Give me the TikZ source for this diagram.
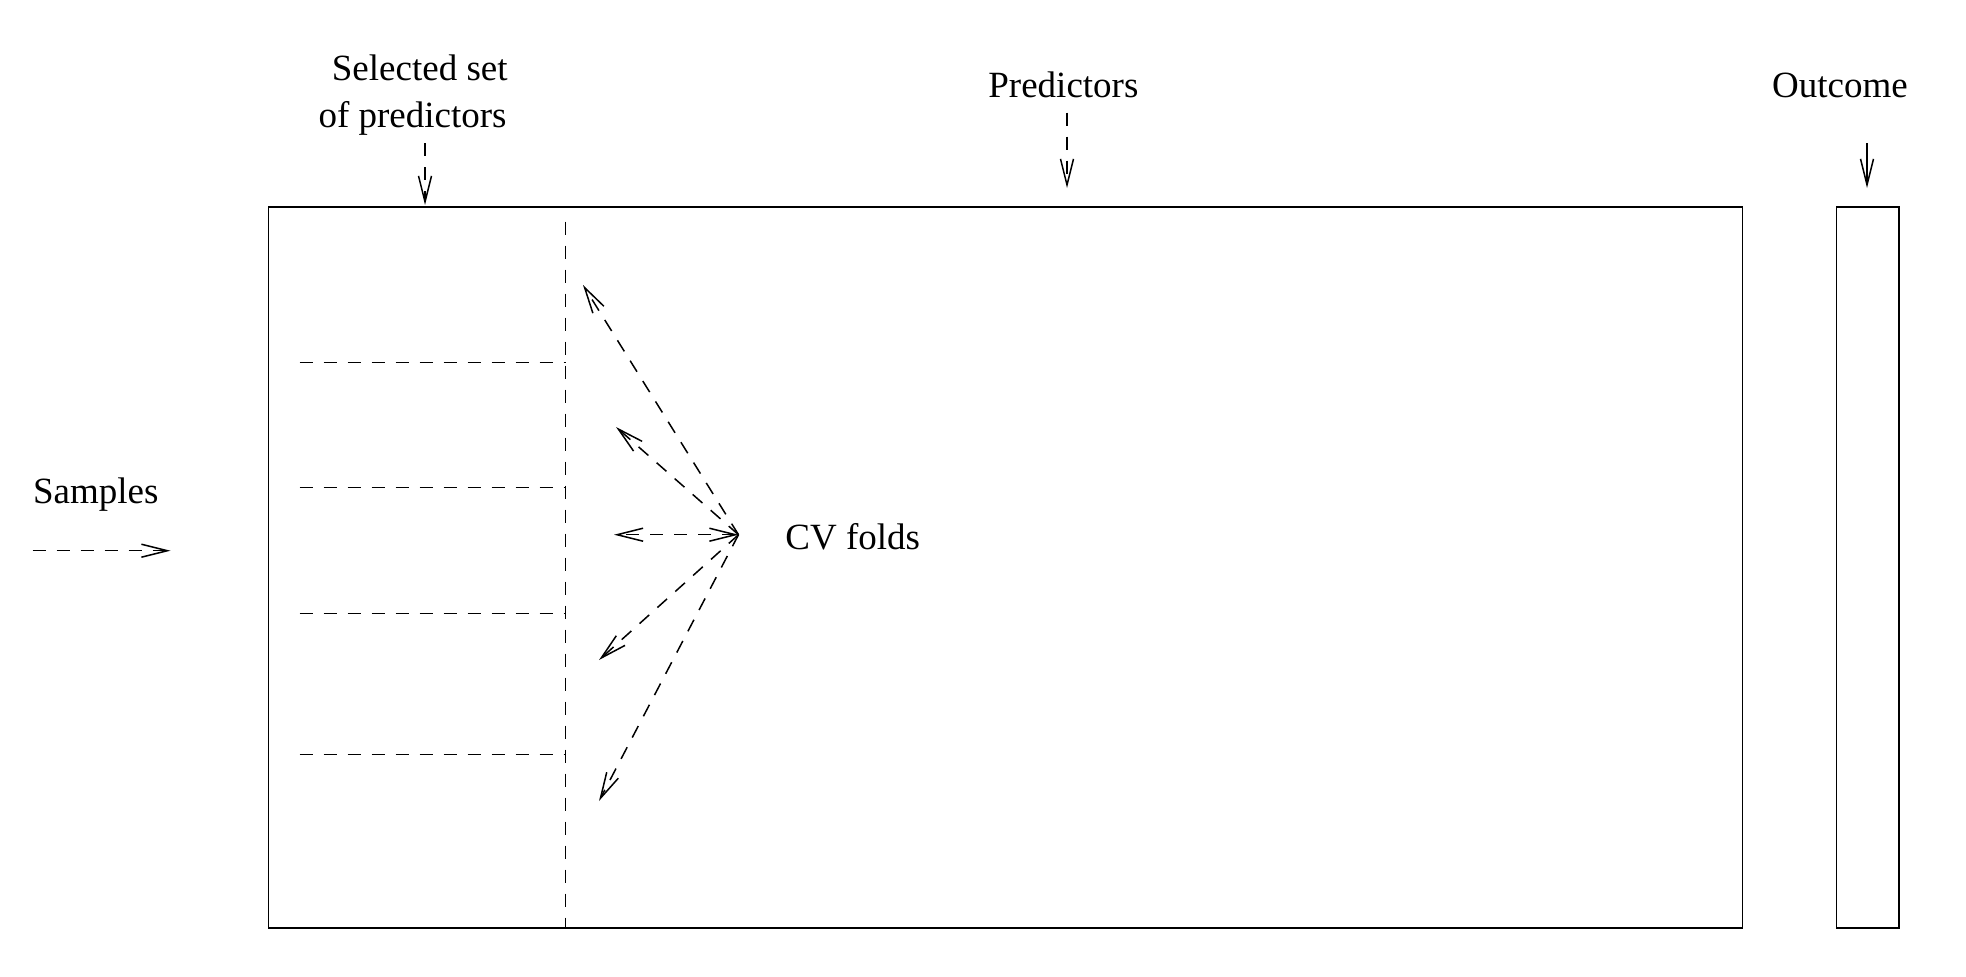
\documentclass[tikz,border=0pt]{standalone}
\usepackage{fontspec}
\setmainfont{Liberation Serif}
\usetikzlibrary{arrows.meta}
\tikzset{
  lbl/.style={inner sep=0pt, font=\fontsize{18.5}{22}\selectfont},
  dsh/.style={dash pattern=on 6.5pt off 5.5pt},
  box/.style={draw, line width=0.75pt},
  arr/.style={line width=0.75pt, -{Straight Barb[length=13pt,width=6.5pt]}},
  darr/.style={line width=0.75pt, {Straight Barb[length=13pt,width=6.5pt]}-{Straight Barb[length=13pt,width=6.5pt]}},
}
\begin{document}
\begin{tikzpicture}[x=0.5pt,y=-0.5pt]
\useasboundingbox (0,0) rectangle (1966,976);
% boxes
\node[box, anchor=north west, minimum width=737pt, minimum height=360.65pt, inner sep=0pt] (main) at (267.7,206) {};
\node[box, anchor=north west, minimum width=31.35pt, minimum height=360.65pt, inner sep=0pt] (outc) at (1835.7,206) {};
% labels
\node[lbl, anchor=base east] (sel1) at (508,80) {Selected set};
\node[lbl, anchor=base east] (sel2) at (507,127.7) {of predictors};
\node[lbl, anchor=base west] (pred) at (988,97) {Predictors};
\node[lbl, anchor=base west] (outl) at (1771.7,97) {Outcome};
\node[lbl, anchor=base west] (samp) at (32.6,503) {Samples};
\node[lbl, anchor=base west] (cv) at (785,549.7) {CV folds};
% coordinates
\coordinate (selS) at (425,143);
\coordinate (selE) at (425,205);
\coordinate (predS) at (1067,112.7);
\coordinate (predE) at (1067,188);
\coordinate (outS) at (1867,143);
\coordinate (outE) at (1867,188);
\coordinate (sampS) at (32.6,550.7);
\coordinate (sampE) at (170.5,550.7);
\coordinate (vt) at (565.5,221.7);
\coordinate (vb) at (565.5,927.3);
\coordinate (o) at (738.5,534.7);
\coordinate (t1) at (583,285);
\coordinate (t2) at (616,427);
\coordinate (t3) at (614,534.7);
\coordinate (t4) at (599,660);
\coordinate (t5) at (599,801);
% top arrows
\draw[arr, dsh] (selS) -- (selE);
\draw[arr, dsh] (predS) -- (predE);
\draw[arr] (outS) -- (outE);
\draw[arr, dsh] (sampS) -- (sampE);
% selected column and folds
\draw[line width=0.75pt, dsh] (vt) -- (vb);
\foreach \yy/\nm in {362.3/h1, 487.3/h2, 613.7/h3, 754.7/h4}{
  \coordinate (\nm s) at (299.7,\yy);
  \coordinate (\nm e) at (565.5,\yy);
  \draw[line width=0.75pt, dsh] (\nm s) -- (\nm e);
}
% CV fold arrows
\draw[arr, dsh] (o) -- (t1);
\draw[arr, dsh] (o) -- (t2);
\draw[darr, dsh] (o) -- (t3);
\draw[arr, dsh] (o) -- (t4);
\draw[arr, dsh] (o) -- (t5);
\end{tikzpicture}
\end{document}
